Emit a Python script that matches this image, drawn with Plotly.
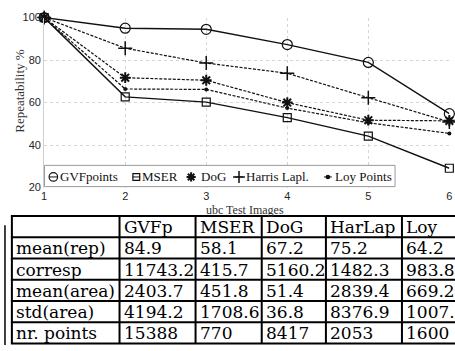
import plotly.graph_objects as go

# ---------------- data ----------------
test_images = [1, 2, 3, 4, 5, 6]
gvf_points = [100, 95.0, 94.5, 87.3, 78.9, 54.8]
mser = [100, 62.7, 60.2, 52.9, 44.2, 29.1]
dog = [100, 71.7, 70.5, 60.0, 51.7, 51.4]
harris_lapl = [100, 85.6, 78.6, 73.8, 62.3, 50.9]
loy_points = [100, 66.4, 66.2, 57.4, 50.5, 45.5]

y_ticks = [20, 40, 60, 80, 100]

table_header = ["", "GVFp", "MSER", "DoG", "HarLap", "Loy"]
row_labels = ["mean(rep)", "corresp", "mean(area)", "std(area)", "nr. points"]
gvfp_stats = [84.9, 11743.2, 2403.7, 4194.2, 15388]
mser_stats = [58.1, 415.7, 451.8, 1708.6, 770]
dog_stats = [67.2, 5160.2, 51.4, 36.8, 8417]
harlap_stats = [75.2, 1482.3, 2839.4, 8376.9, 2053]
loy_stats = [64.2, 983.8, 669.2, 1007.4, 1600]

legend_names = ["GVFpoints", "MSER", "DoG", "Harris Lapl.", "Loy Points"]

# ---------------- layout helpers (pixels) ----------------
W, H = 480, 351


def px(x):
    return x / W


def py(y):
    return (H - y) / H


fig = go.Figure()

series = [
    (gvf_points, "circle-open", 10, 1.2, "solid", 1.4),
    (mser, "square-open", 8, 1.2, "solid", 1.4),
    (dog, "asterisk-open", 9, 2.0, "3px,1.5px", 1.2),
    (harris_lapl, "cross-thin-open", 10, 1.5, "3px,1.5px", 1.2),
    (loy_points, "circle", 4, 0, "3px,1.5px", 1.2),
]

for (vals, sym, size, mlw, dash, lw), name in zip(series, legend_names):
    fig.add_trace(go.Scatter(
        x=test_images, y=vals, mode="lines+markers", name=name,
        line=dict(color="#111111", width=lw, dash=dash),
        marker=dict(symbol=sym, size=size, color="#111111",
                    line=dict(color="#111111", width=mlw)),
        cliponaxis=False, showlegend=False,
    ))

# legend keys drawn on an overlay pixel axis
leg_sym_x = [51, 135, 190.5, 239, 329]
leg_txt_x = [56, 139, 198, 244, 334]
leg_y = 177
for (vals, sym, size, mlw, dash, lw), sx in zip(series, leg_sym_x):
    fig.add_trace(go.Scatter(
        x=[sx - 4, sx + 4], y=[leg_y, leg_y], xaxis="x2", yaxis="y2",
        mode="lines", line=dict(color="#111111", width=1.0),
        showlegend=False, hoverinfo="skip",
    ))
    fig.add_trace(go.Scatter(
        x=[sx], y=[leg_y], xaxis="x2", yaxis="y2", mode="markers",
        marker=dict(symbol=sym, size=size * 0.85, color="#111111",
                    line=dict(color="#111111", width=max(mlw, 1.2))),
        showlegend=False, hoverinfo="skip",
    ))

fig.add_shape(type="rect", xref="x2", yref="y2", x0=42, x1=397, y0=165, y1=187,
              fillcolor="white", line=dict(color="#9a9a9a", width=1), layer="below")

for name, tx in zip(legend_names, leg_txt_x):
    fig.add_annotation(xref="x2", yref="y2", x=tx, y=leg_y, text=name,
                       showarrow=False, xanchor="left", yanchor="middle",
                       font=dict(family="Liberation Serif", size=13, color="#111111"))

# ---------------- table (lines + text) ----------------
col_edges = [9, 118, 195, 262, 327, 404, 470]
tab_top, row_h = 217.5, 22.0
columns = [row_labels, gvfp_stats, mser_stats, dog_stats, harlap_stats, loy_stats]
n_rows = len(row_labels) + 1
tab_bottom = tab_top + n_rows * row_h
tab_font = dict(family="DejaVu Serif", size=17, color="black")

for xe in col_edges:
    fig.add_shape(type="line", xref="x2", yref="y2", x0=xe, x1=xe,
                  y0=tab_top, y1=tab_bottom, line=dict(color="black", width=2))
for r in range(n_rows + 1):
    ye = tab_top + r * row_h
    fig.add_shape(type="line", xref="x2", yref="y2", x0=col_edges[0] - 1,
                  x1=col_edges[-1], y0=ye, y1=ye, line=dict(color="black", width=2))

for c, head in enumerate(table_header):
    cells = [head] + [str(v) for v in columns[c]]
    for r, txt in enumerate(cells):
        if not txt:
            continue
        fig.add_annotation(xref="x2", yref="y2", x=col_edges[c] + 2,
                           y=tab_top + (r + 0.5) * row_h + 0.5, text=txt,
                           showarrow=False, xanchor="left", yanchor="middle",
                           font=tab_font)

# stray vertical line at far left
fig.add_shape(type="line", xref="x2", yref="y2", x0=2, x1=2, y0=227, y1=351,
              line=dict(color="black", width=1.5))

fig.add_annotation(xref="x2", yref="y2", x=17, y=88, text="Repeatability %",
                   textangle=-90, showarrow=False,
                   font=dict(family="Liberation Serif", size=13, color="#333333"))
fig.add_annotation(xref="x2", yref="y2", x=245, y=211, text="ubc Test Images",
                   showarrow=False, borderpad=0,
                   font=dict(family="Liberation Serif", size=12, color="#333333"))

fig.update_layout(
    width=W, height=H, margin=dict(l=0, r=0, t=0, b=0),
    plot_bgcolor="rgba(0,0,0,0)", paper_bgcolor="white",
    xaxis=dict(domain=[px(41.7), px(452)], range=[1, 6], tickvals=test_images,
               showgrid=True, gridcolor="#d6d6d6", griddash="dot", gridwidth=1,
               zeroline=False, showline=False, ticks="",
               tickfont=dict(family="Arial", size=11, color="#262626")),
    yaxis=dict(domain=[py(188), py(12)], range=[20, 100], tickvals=y_ticks,
               showgrid=True, gridcolor="#d6d6d6", griddash="dot", gridwidth=1,
               zeroline=False, showline=True, linecolor="#cfcfcf", ticks="",
               tickfont=dict(family="Arial", size=11, color="#262626")),
    xaxis2=dict(domain=[0, 1], range=[0, W], visible=False, anchor="y2"),
    yaxis2=dict(domain=[0, 1], range=[H, 0], visible=False, anchor="x2"),
)

fig.write_html("out.html", config={"displayModeBar": False},
               post_script="document.body.style.margin='0';document.body.style.overflow='hidden';")
